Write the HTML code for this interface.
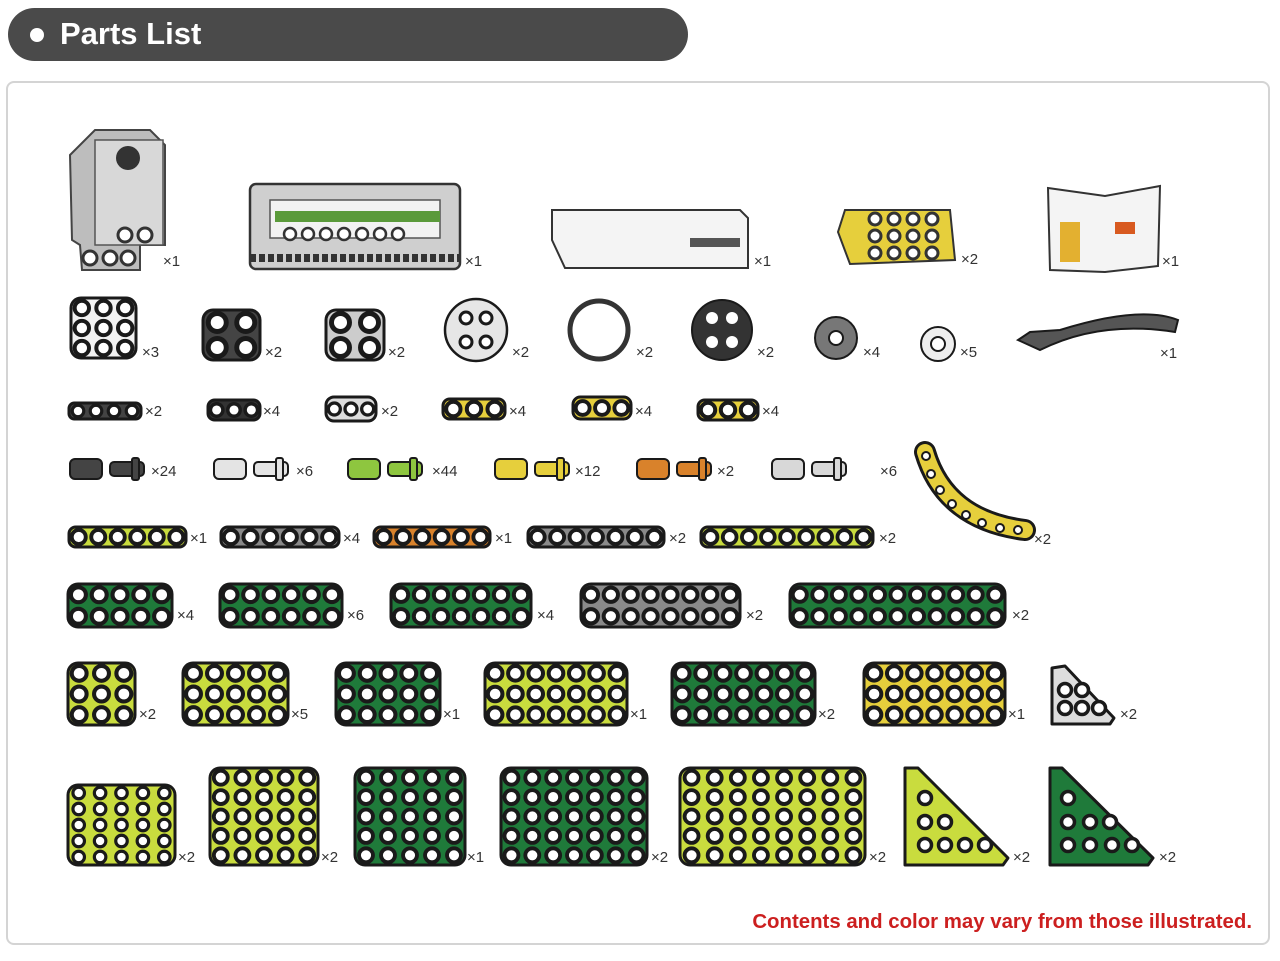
<!DOCTYPE html>
<html><head><meta charset="utf-8">
<style>
html,body{margin:0;padding:0;background:#fff;width:1280px;height:961px;overflow:hidden}
#hdr{position:absolute;left:8px;top:8px;width:680px;height:53px;background:#4a4a4a;border-radius:27px}
#hdr .dot{position:absolute;left:22px;top:20px;width:14px;height:14px;border-radius:50%;background:#fff}
#hdr .t{position:absolute;left:52px;top:8px;font:bold 31px "Liberation Sans",sans-serif;color:#fff}
#frame{position:absolute;left:6px;top:81px;width:1264px;height:864px;border:2px solid #d4d4d4;border-radius:8px;box-sizing:border-box}
svg{position:absolute;left:0;top:0}
svg text{font-family:"Liberation Sans",sans-serif;font-size:15px;fill:#333}
</style></head><body>
<div id="hdr"><div class="dot"></div><div class="t">Parts List</div></div>
<div id="frame"></div>
<svg id="s" width="1280" height="961" xmlns="http://www.w3.org/2000/svg">
<g id="shapes"></g>
<text x="163" y="266">×1</text><text x="465" y="266">×1</text><text x="754" y="266">×1</text><text x="961" y="264">×2</text><text x="1162" y="266">×1</text>
<text x="142" y="357">×3</text><text x="265" y="357">×2</text><text x="388" y="357">×2</text><text x="512" y="357">×2</text><text x="636" y="357">×2</text><text x="757" y="357">×2</text><text x="863" y="357">×4</text><text x="960" y="357">×5</text><text x="1160" y="358">×1</text>
<text x="145" y="416">×2</text><text x="263" y="416">×4</text><text x="381" y="416">×2</text><text x="509" y="416">×4</text><text x="635" y="416">×4</text><text x="762" y="416">×4</text>
<text x="151" y="476">×24</text><text x="296" y="476">×6</text><text x="432" y="476">×44</text><text x="575" y="476">×12</text><text x="717" y="476">×2</text><text x="880" y="476">×6</text>
<text x="190" y="543">×1</text><text x="343" y="543">×4</text><text x="495" y="543">×1</text><text x="669" y="543">×2</text><text x="879" y="543">×2</text><text x="1034" y="544">×2</text>
<text x="177" y="620">×4</text><text x="347" y="620">×6</text><text x="537" y="620">×4</text><text x="746" y="620">×2</text><text x="1012" y="620">×2</text>
<text x="139" y="719">×2</text><text x="291" y="719">×5</text><text x="443" y="719">×1</text><text x="630" y="719">×1</text><text x="818" y="719">×2</text><text x="1008" y="719">×1</text><text x="1120" y="719">×2</text>
<text x="178" y="862">×2</text><text x="321" y="862">×2</text><text x="467" y="862">×1</text><text x="651" y="862">×2</text><text x="869" y="862">×2</text><text x="1013" y="862">×2</text><text x="1159" y="862">×2</text>
<text x="1252" y="928" text-anchor="end" style="font-weight:bold;font-size:20.4px;fill:#cc1f1f">Contents and color may vary from those illustrated.</text>
</svg>
<script>
var g=document.getElementById('shapes'),NS='http://www.w3.org/2000/svg';
function el(n,a){var e=document.createElementNS(NS,n);for(var k in a)e.setAttribute(k,a[k]);g.appendChild(e);return e;}
var GR='#1f7a3a',LI='#c9dc3e',YE='#e6cf3c',GY='#8a8a8a',OR='#d9822b',DK='#1a1a1a';
function plate(x,y,w,h,c,r,f){
 el('rect',{x:x,y:y,width:w,height:h,rx:Math.min(10,h/3),fill:f,stroke:DK,'stroke-width':3});
 var sx=w/c,sy=h/r,rad=Math.min(sx,sy)*0.36;
 for(var i=0;i<c;i++)for(var j=0;j<r;j++)
  el('circle',{cx:x+sx*(i+.5),cy:y+sy*(j+.5),r:rad,fill:'#fff',stroke:DK,'stroke-width':Math.max(2,rad*0.55)});
}
function tri(pts,f,holes){el('polygon',{points:pts,fill:f,stroke:DK,'stroke-width':3,'stroke-linejoin':'round'});
 holes.forEach(function(h){el('circle',{cx:h[0],cy:h[1],r:6.5,fill:'#fff',stroke:DK,'stroke-width':3.5});});}
plate(68,584,104,43,5,2,GR);plate(220,584,122,43,6,2,GR);plate(391,584,140,43,7,2,GR);plate(581,584,159,43,8,2,GY);plate(790,584,215,43,11,2,GR);
plate(68,663,67,62,3,3,LI);plate(183,663,105,62,5,3,LI);plate(336,663,104,62,5,3,GR);plate(485,663,142,62,7,3,LI);plate(672,663,143,62,7,3,GR);plate(864,663,141,62,7,3,YE);
tri('1052,668 1065,666 1114,718 1110,724 1052,724','#ddd',[[1065,708],[1082,708],[1099,708],[1065,690],[1082,690]]);
plate(68,785,107,80,5,5,LI);plate(210,768,108,97,5,5,LI);plate(355,768,110,97,5,5,GR);plate(501,768,146,97,7,5,GR);plate(680,768,185,97,8,5,LI);
tri('905,768 918,768 1008,858 1003,865 905,865',LI,[[925,845],[945,845],[965,845],[985,845],[925,822],[945,822],[925,798]]);
tri('1050,768 1062,768 1153,858 1148,865 1050,865',GR,[[1068,845],[1090,845],[1112,845],[1132,845],[1068,822],[1090,822],[1068,798],[1110,822]]);
plate(69,527,117,20,6,1,LI);plate(221,527,118,20,6,1,GY);plate(374,527,116,20,6,1,OR);plate(528,527,136,20,7,1,GY);plate(701,527,172,20,9,1,LI);
el('path',{d:'M925,452 Q945,520 1025,530',fill:'none',stroke:DK,'stroke-width':22,'stroke-linecap':'round'});
el('path',{d:'M925,452 Q945,520 1025,530',fill:'none',stroke:YE,'stroke-width':16,'stroke-linecap':'round'});
[[926,456],[931,474],[940,490],[952,504],[966,515],[982,523],[1000,528],[1018,530]].forEach(function(p){el('circle',{cx:p[0],cy:p[1],r:4,fill:'#fff',stroke:DK,'stroke-width':2});});
function pin(x,f){el('rect',{x:x,y:459,width:32,height:20,rx:5,fill:f,stroke:DK,'stroke-width':2});el('rect',{x:x+40,y:462,width:34,height:14,rx:4,fill:f,stroke:DK,'stroke-width':2});el('rect',{x:x+62,y:458,width:7,height:22,rx:2,fill:f,stroke:DK,'stroke-width':2});}
pin(70,'#444');pin(214,'#e4e4e4');pin(348,'#8ec63f');pin(495,YE);pin(637,OR);pin(772,'#d8d8d8');
plate(69,403,72,16,4,1,'#444');plate(208,400,52,20,3,1,'#333');plate(326,397,50,24,3,1,'#ddd');plate(443,399,62,20,3,1,YE);plate(573,397,58,22,3,1,YE);plate(698,400,60,20,3,1,YE);
plate(71,298,65,60,3,3,'#f2f2f2');plate(203,310,57,50,2,2,'#444');plate(326,310,58,50,2,2,'#ccc');
el('circle',{cx:476,cy:330,r:31,fill:'#e6e6e6',stroke:DK,'stroke-width':2.5});[[466,318],[486,318],[466,342],[486,342]].forEach(function(p){el('circle',{cx:p[0],cy:p[1],r:6,fill:'#fff',stroke:DK,'stroke-width':3});});
el('circle',{cx:599,cy:330,r:29,fill:'none',stroke:'#333','stroke-width':5});
el('circle',{cx:722,cy:330,r:30,fill:'#333',stroke:DK,'stroke-width':2});[[712,318],[732,318],[712,342],[732,342]].forEach(function(p){el('circle',{cx:p[0],cy:p[1],r:6,fill:'#fff'});});
el('circle',{cx:836,cy:338,r:21,fill:'#777',stroke:DK,'stroke-width':2});el('circle',{cx:836,cy:338,r:7,fill:'#fff',stroke:DK,'stroke-width':2});
el('circle',{cx:938,cy:344,r:17,fill:'#eee',stroke:DK,'stroke-width':2});el('circle',{cx:938,cy:344,r:7,fill:'#fff',stroke:DK,'stroke-width':2});
el('path',{d:'M1018,340 L1040,350 Q1100,320 1175,332 L1178,320 Q1140,305 1060,330 L1030,332 Z',fill:'#555',stroke:DK,'stroke-width':2});
el('path',{d:'M70,155 L95,130 L150,130 L165,145 L165,245 L140,245 L140,270 L82,270 L80,245 L72,240 Z',fill:'#bdbdbd',stroke:'#444','stroke-width':2});
el('rect',{x:95,y:140,width:68,height:105,fill:'#d8d8d8',stroke:'#555','stroke-width':1.5});
el('circle',{cx:128,cy:158,r:12,fill:'#333'});
[[125,235],[145,235],[90,258],[110,258],[128,258]].forEach(function(p){el('circle',{cx:p[0],cy:p[1],r:7,fill:'#fff',stroke:'#333','stroke-width':3});});
el('rect',{x:250,y:184,width:210,height:85,rx:6,fill:'#cfcfcf',stroke:'#333','stroke-width':2.5});
el('rect',{x:270,y:200,width:170,height:38,fill:'#f2f2f2',stroke:'#555','stroke-width':1.5});
el('rect',{x:275,y:211,width:165,height:11,fill:'#5a9a3a'});
for(var i=0;i<7;i++)el('circle',{cx:290+i*18,cy:234,r:6,fill:'#fff',stroke:'#333','stroke-width':2.5});
el('path',{d:'M250,258 L460,258',stroke:'#333','stroke-width':8,'stroke-dasharray':'6 3'});
el('path',{d:'M552,210 L740,210 L748,218 L748,268 L565,268 L552,240 Z',fill:'#f4f4f4',stroke:'#333','stroke-width':2});
el('rect',{x:690,y:238,width:50,height:9,fill:'#555'});
el('path',{d:'M845,210 L950,210 L955,260 L850,264 L838,232 Z',fill:YE,stroke:'#333','stroke-width':2});
for(var j=0;j<3;j++)for(var i=0;i<4;i++)el('circle',{cx:875+i*19,cy:219+j*17,r:6,fill:'#fff',stroke:'#333','stroke-width':3});
el('path',{d:'M1048,188 L1105,196 L1160,186 L1158,266 L1105,272 L1050,270 Z',fill:'#f4f4f4',stroke:'#333','stroke-width':2});
el('rect',{x:1060,y:222,width:20,height:40,fill:'#e3b030'});el('rect',{x:1115,y:222,width:20,height:12,fill:'#d85a20'});
</script>
</body></html>
